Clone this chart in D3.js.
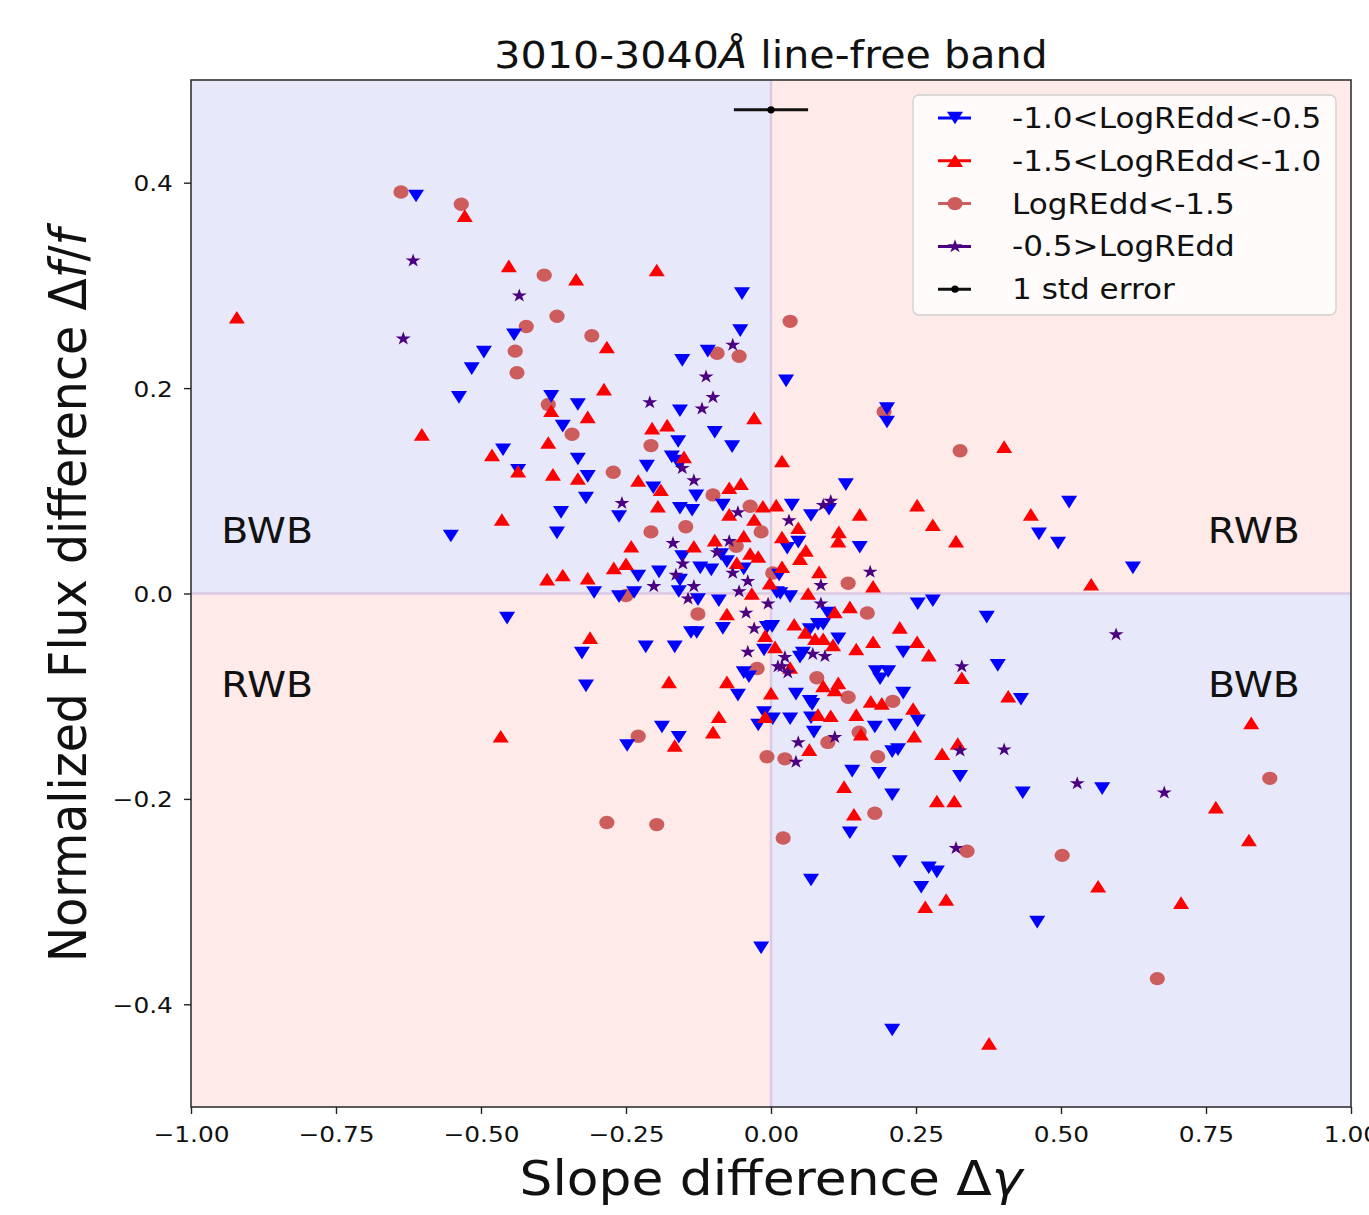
<!DOCTYPE html>
<html lang="en">
<head>
<meta charset="utf-8">
<title>3010-3040Å line-free band</title>
<style>
  body { margin: 0; background: #fff; }
  svg { display: block; font-family: "DejaVu Sans", sans-serif; }
</style>
</head>
<body>
<svg id="chart"></svg>
<script src="https://d3js.org/d3.v7.min.js"></script>
<script>
// -1.0 < LogREdd < -0.5  (blue, down triangles)
var midEdd = [
  [-0.612,0.387],[-0.495,0.235],[-0.516,0.219],[-0.538,0.191],[-0.050,0.292],[-0.443,0.252],[-0.053,0.256],
  [-0.109,0.236],[-0.153,0.227],[-0.379,0.192],[-0.333,0.184],[-0.157,0.178],[0.026,0.207],[0.200,0.180],
  [0.200,0.167],[-0.359,0.163],[-0.097,0.157],[-0.160,0.148],[-0.067,0.143],[-0.462,0.140],[-0.333,0.131],
  [-0.171,0.133],[-0.162,0.129],[-0.157,0.126],[-0.436,0.120],[-0.316,0.114],[-0.214,0.124],[-0.203,0.103],
  [-0.129,0.095],[-0.319,0.093],[-0.083,0.086],[-0.157,0.083],[-0.136,0.081],[-0.362,0.079],[-0.262,0.075],
  [-0.369,0.059],[-0.153,0.036],[-0.086,0.038],[-0.076,0.031],[-0.122,0.025],[-0.103,0.023],[-0.193,0.021],
  [-0.229,0.017],[-0.047,0.024],[-0.157,0.013],[-0.159,0.002],[-0.305,0.001],[-0.262,-0.003],[-0.236,0.001],
  [-0.126,-0.006],[-0.090,-0.007],[0.010,0.001],[-0.455,-0.024],[-0.138,-0.038],[-0.128,-0.038],[-0.083,-0.034],
  [-0.007,-0.033],[-0.326,-0.058],[-0.216,-0.052],[-0.166,-0.052],[-0.012,-0.055],[-0.047,-0.077],[-0.038,-0.081],
  [-0.319,-0.090],[-0.057,-0.099],[-0.012,-0.116],[0.003,-0.122],[-0.022,-0.128],[-0.188,-0.130],[-0.159,-0.140],
  [-0.248,-0.148],[0.129,0.106],[0.514,0.089],[0.036,0.086],[0.100,0.082],[0.069,0.076],[0.462,0.058],
  [0.495,0.049],[0.047,0.050],[0.028,0.044],[0.153,0.045],[0.014,0.018],[0.016,0.000],[0.033,-0.003],
  [0.098,-0.019],[0.253,-0.010],[0.279,-0.007],[0.372,-0.023],[0.002,-0.032],[0.067,-0.035],[0.081,-0.030],
  [0.090,-0.030],[0.116,-0.044],[0.228,-0.057],[0.055,-0.058],[0.050,-0.062],[0.181,-0.076],[0.202,-0.076],
  [0.188,-0.083],[0.391,-0.070],[0.228,-0.097],[0.043,-0.098],[0.067,-0.105],[0.071,-0.108],[0.431,-0.103],
  [0.033,-0.122],[0.069,-0.121],[0.253,-0.124],[0.179,-0.130],[0.214,-0.128],[0.074,-0.135],[0.209,-0.154],
  [0.219,-0.152],[0.140,-0.173],[0.186,-0.175],[0.326,-0.178],[0.209,-0.196],[0.434,-0.194],[0.136,-0.233],
  [0.222,-0.261],[0.272,-0.267],[0.286,-0.271],[0.069,-0.279],[0.259,-0.286],[0.459,-0.320],[0.209,-0.425],
  [-0.017,-0.345],[0.571,-0.190],[0.624,0.025],[-0.552,0.056]
];

// -1.5 < LogREdd < -1.0  (red, up triangles)
var lowEdd = [
  [-0.528,0.368],[-0.921,0.269],[-0.452,0.319],[-0.336,0.306],[-0.197,0.315],[-0.283,0.240],[-0.288,0.199],
  [-0.379,0.178],[-0.316,0.172],[-0.029,0.171],[-0.602,0.155],[-0.205,0.161],[-0.179,0.164],[-0.384,0.147],
  [-0.481,0.135],[-0.150,0.133],[-0.436,0.119],[-0.376,0.116],[-0.333,0.112],[-0.229,0.110],[-0.190,0.101],
  [-0.072,0.103],[-0.052,0.107],[-0.195,0.085],[-0.014,0.085],[0.009,0.086],[-0.072,0.077],[-0.464,0.072],
  [-0.029,0.072],[-0.047,0.056],[-0.241,0.046],[-0.133,0.046],[-0.097,0.052],[-0.036,0.039],[-0.022,0.036],
  [-0.250,0.029],[-0.271,0.025],[-0.059,0.030],[-0.386,0.014],[-0.359,0.018],[-0.316,0.015],[-0.002,0.010],
  [-0.033,0.000],[-0.076,-0.020],[-0.010,-0.041],[-0.312,-0.043],[0.007,-0.052],[-0.176,-0.086],[-0.076,-0.086],
  [0.000,-0.097],[-0.090,-0.120],[-0.010,-0.120],[-0.100,-0.135],[-0.166,-0.148],[-0.466,-0.139],
  [0.402,0.143],[0.019,0.129],[0.153,0.077],[0.252,0.086],[0.279,0.067],[0.448,0.077],[0.047,0.064],
  [0.117,0.060],[0.116,0.051],[0.319,0.051],[0.019,0.055],[0.060,0.042],[0.050,0.034],[0.019,0.026],
  [0.083,0.021],[0.176,0.007],[0.064,0.000],[0.110,-0.018],[0.136,-0.013],[0.040,-0.030],[0.222,-0.033],
  [0.059,-0.038],[0.076,-0.044],[0.090,-0.044],[0.107,-0.050],[0.176,-0.047],[0.252,-0.047],[0.147,-0.054],
  [0.272,-0.060],[0.033,-0.072],[0.329,-0.082],[0.090,-0.090],[0.116,-0.087],[0.110,-0.094],[0.172,-0.105],
  [0.191,-0.107],[0.409,-0.100],[0.245,-0.112],[0.081,-0.118],[0.103,-0.119],[0.147,-0.118],[0.155,-0.137],
  [0.247,-0.139],[0.066,-0.152],[0.295,-0.156],[0.322,-0.146],[0.126,-0.188],[0.286,-0.202],[0.316,-0.202],
  [0.143,-0.215],[0.302,-0.298],[0.266,-0.305],[0.376,-0.438],[0.767,-0.208],[0.824,-0.240],[0.564,-0.285],
  [0.707,-0.301],[0.552,0.009],[0.828,-0.126]
];

// LogREdd < -1.5  (indianred, circles)
var veryLowEdd = [
  [-0.638,0.391],[-0.534,0.379],[-0.391,0.310],[-0.369,0.270],[-0.422,0.260],[-0.309,0.251],[-0.441,0.236],
  [-0.093,0.234],[-0.055,0.231],[-0.438,0.215],[-0.384,0.184],[0.033,0.265],[0.195,0.177],[-0.343,0.155],
  [-0.207,0.144],[-0.272,0.118],[-0.100,0.096],[-0.036,0.085],[-0.017,0.060],[-0.207,0.060],[-0.147,0.065],
  [-0.060,0.046],[0.003,0.020],[-0.250,-0.002],[-0.126,-0.020],[-0.024,-0.073],[-0.229,-0.139],[-0.007,-0.159],
  [0.326,0.139],[0.133,0.010],[0.166,-0.019],[0.079,-0.082],[0.133,-0.101],[0.210,-0.105],[0.152,-0.135],
  [0.098,-0.145],[0.184,-0.159],[0.024,-0.161],[0.179,-0.214],[0.021,-0.238],[0.338,-0.251],[0.502,-0.255],
  [0.860,-0.180],[0.666,-0.375],[-0.283,-0.223],[-0.197,-0.225]
];

// -0.5 > LogREdd  (indigo, stars)
var highEdd = [
  [-0.617,0.324],[-0.634,0.248],[-0.434,0.290],[-0.066,0.242],[-0.112,0.211],[-0.100,0.191],[-0.209,0.186],
  [-0.119,0.180],[-0.153,0.122],[-0.133,0.110],[-0.257,0.088],[-0.057,0.079],[-0.169,0.049],[-0.072,0.051],
  [-0.093,0.040],[-0.152,0.029],[-0.066,0.020],[-0.164,0.018],[-0.202,0.007],[-0.133,0.007],[-0.040,0.012],
  [-0.055,0.002],[-0.143,-0.005],[-0.005,-0.010],[-0.043,-0.019],[-0.029,-0.034],[-0.040,-0.057],[0.012,-0.071],
  [0.103,0.090],[0.090,0.086],[0.031,0.071],[0.171,0.021],[0.086,0.008],[0.086,-0.010],[0.072,-0.059],
  [0.093,-0.061],[0.024,-0.062],[0.019,-0.071],[0.029,-0.077],[0.329,-0.071],[0.047,-0.145],[0.110,-0.140],
  [0.326,-0.153],[0.402,-0.152],[0.043,-0.164],[0.319,-0.248],[0.528,-0.185],[0.678,-0.194],[0.595,-0.040]
];

// typical 1-sigma error shown at the top
var stdError = { x: 0.0, y: 0.471, xerr: 0.064 };

var xTicks = [-1, -0.75, -0.5, -0.25, 0, 0.25, 0.5, 0.75, 1];
var yTicks = [-0.4, -0.2, 0, 0.2, 0.4];

var legendLabels = ["-1.0<LogREdd<-0.5", "-1.5<LogREdd<-1.0", "LogREdd<-1.5", "-0.5>LogREdd", "1 std error"];

(function() {
  var width = 1369, height = 1215;
  var SX = 1.13; // the original picture is a bit wider than tall in its glyphs

  var svg = d3.select("#chart").attr("width", width).attr("height", height);

  var x = d3.scaleLinear().domain([-1, 1]).range([191, 1351]);
  var y = d3.scaleLinear().domain([-0.5, 0.5]).range([1107, 80]);

  var blueBg = "#e8e8fb", pinkBg = "#ffeaea";

  // quadrant shading
  var quads = [
    { x0: -1, x1: 0, y0: 0, y1: 0.5, c: blueBg },
    { x0: 0, x1: 1, y0: 0, y1: 0.5, c: pinkBg },
    { x0: -1, x1: 0, y0: -0.5, y1: 0, c: pinkBg },
    { x0: 0, x1: 1, y0: -0.5, y1: 0, c: blueBg }
  ];
  svg.append("g").selectAll("rect").data(quads).enter().append("rect")
    .attr("x", function(d) { return x(d.x0); })
    .attr("y", function(d) { return y(d.y1); })
    .attr("width", function(d) { return x(d.x1) - x(d.x0); })
    .attr("height", function(d) { return y(d.y0) - y(d.y1); })
    .attr("fill", function(d) { return d.c; });

  svg.append("line").attr("x1", x(0)).attr("x2", x(0)).attr("y1", y(0.5)).attr("y2", y(-0.5))
    .attr("stroke", "#dcc9e4").attr("stroke-width", 2.5);
  svg.append("line").attr("x1", x(-1)).attr("x2", x(1)).attr("y1", y(0)).attr("y2", y(0))
    .attr("stroke", "#dcc9e4").attr("stroke-width", 2.5);

  // region labels
  function stretchedText(g, px, py, txt, size, anchor) {
    return g.append("text")
      .attr("transform", "translate(" + px + "," + py + ") scale(" + SX + ",1)")
      .attr("font-size", size)
      .attr("text-anchor", anchor || "start")
      .attr("fill", "#111")
      .text(txt);
  }
  var regions = [
    { x: -0.948, y: 0.06, t: "BWB", a: "start" },
    { x: -0.948, y: -0.09, t: "RWB", a: "start" },
    { x: 0.912, y: 0.06, t: "RWB", a: "end" },
    { x: 0.912, y: -0.09, t: "BWB", a: "end" }
  ];
  var rg = svg.append("g");
  regions.forEach(function(r) {
    stretchedText(rg, x(r.x), y(r.y) + 11, r.t, 35, r.a);
  });

  // marker shapes, centred on their bounding box like matplotlib
  var triUp = { draw: function(ctx, size) {
    var s = Math.sqrt(size * 4 / Math.sqrt(3)), h = s * Math.sqrt(3) / 2;
    ctx.moveTo(0, -h / 2); ctx.lineTo(s / 2, h / 2); ctx.lineTo(-s / 2, h / 2); ctx.closePath();
  } };
  var triDown = { draw: function(ctx, size) {
    var s = Math.sqrt(size * 4 / Math.sqrt(3)), h = s * Math.sqrt(3) / 2;
    ctx.moveTo(0, h / 2); ctx.lineTo(s / 2, -h / 2); ctx.lineTo(-s / 2, -h / 2); ctx.closePath();
  } };

  var blueSym = d3.symbol().type(triDown).size(92);
  var redSym = d3.symbol().type(triUp).size(92);
  var starSym = d3.symbol().type(d3.symbolStar).size(58);

  var marks = svg.append("g");

  marks.append("g").selectAll("ellipse").data(veryLowEdd).enter().append("ellipse")
    .attr("cx", function(d) { return x(d[0]); })
    .attr("cy", function(d) { return y(d[1]); })
    .attr("rx", 7.6).attr("ry", 6.7)
    .attr("fill", "#cd5c5c");

  marks.append("g").selectAll("path").data(midEdd).enter().append("path")
    .attr("d", blueSym)
    .attr("transform", function(d) { return "translate(" + x(d[0]) + "," + y(d[1]) + ") scale(1.1,1)"; })
    .attr("fill", "#0000ff");

  marks.append("g").selectAll("path").data(lowEdd).enter().append("path")
    .attr("d", redSym)
    .attr("transform", function(d) { return "translate(" + x(d[0]) + "," + y(d[1]) + ") scale(1.1,1)"; })
    .attr("fill", "#ff0000");

  marks.append("g").selectAll("path").data(highEdd).enter().append("path")
    .attr("d", starSym)
    .attr("transform", function(d) { return "translate(" + x(d[0]) + "," + y(d[1]) + ") scale(1.1,1)"; })
    .attr("fill", "#4b0082");

  // error bar
  svg.append("line")
    .attr("x1", x(stdError.x - stdError.xerr)).attr("x2", x(stdError.x + stdError.xerr))
    .attr("y1", y(stdError.y)).attr("y2", y(stdError.y))
    .attr("stroke", "#111").attr("stroke-width", 3);
  svg.append("circle").attr("cx", x(stdError.x)).attr("cy", y(stdError.y)).attr("r", 3.6).attr("fill", "#000");

  // frame
  svg.append("rect").attr("x", x(-1)).attr("y", y(0.5))
    .attr("width", x(1) - x(-1)).attr("height", y(-0.5) - y(0.5))
    .attr("fill", "none").attr("stroke", "#333").attr("stroke-width", 1.6);

  // axes
  var xAxis = svg.append("g").attr("transform", "translate(0," + y(-0.5) + ")")
    .call(d3.axisBottom(x).tickValues(xTicks).tickFormat(d3.format(".2f")).tickSize(7).tickPadding(12));
  var yAxis = svg.append("g").attr("transform", "translate(" + x(-1) + ",0)")
    .call(d3.axisLeft(y).tickValues(yTicks).tickFormat(d3.format(".1f")).tickSize(7).tickPadding(9));
  [xAxis, yAxis].forEach(function(a) {
    a.select(".domain").remove();
    a.selectAll(".tick line").attr("stroke", "#222").attr("stroke-width", 1.4);
    a.selectAll(".tick text").attr("font-size", 22).attr("fill", "#111")
      .attr("font-family", "DejaVu Sans");
  });
  xAxis.selectAll(".tick text").attr("transform", "scale(" + SX + ",1)");
  yAxis.selectAll(".tick text").attr("transform", "scale(" + SX + ",1)").attr("dy", "0.36em");

  // title
  var title = svg.append("text")
    .attr("transform", "translate(" + x(0) + ",68) scale(" + SX + ",1)")
    .attr("text-anchor", "middle").attr("font-size", 36.5).attr("fill", "#111");
  title.append("tspan").text("3010-3040");
  title.append("tspan").attr("font-style", "italic").text("Å");
  title.append("tspan").text(" line-free band");

  // axis labels
  var xl = svg.append("text")
    .attr("transform", "translate(" + x(0) + ",1195) scale(1.08,1)")
    .attr("text-anchor", "middle").attr("font-size", 48).attr("fill", "#111");
  xl.append("tspan").text("Slope difference Δ");
  xl.append("tspan").attr("font-style", "italic").text("γ");

  var yl = svg.append("text")
    .attr("transform", "translate(86," + (y(0) + 2) + ") rotate(-90) scale(1,1.08)")
    .attr("text-anchor", "middle").attr("font-size", 47.5).attr("fill", "#111");
  yl.append("tspan").text("Normalized Flux difference Δ");
  yl.append("tspan").attr("font-style", "italic").text("f");
  yl.append("tspan").text("/");
  yl.append("tspan").attr("font-style", "italic").text("f");

  // legend
  var lg = svg.append("g");
  lg.append("rect").attr("x", 913).attr("y", 95).attr("width", 423).attr("height", 220).attr("rx", 6)
    .attr("fill", "#ffffff").attr("fill-opacity", 0.8).attr("stroke", "#d0d0d0").attr("stroke-width", 1.3);
  var legendColors = ["#0000ff", "#ff0000", "#cd5c5c", "#4b0082", "#111"];
  legendLabels.forEach(function(lab, i) {
    var cy = 118 + i * 42.8;
    var row = lg.append("g");
    row.append("line").attr("x1", 938).attr("x2", 971).attr("y1", cy).attr("y2", cy)
      .attr("stroke", legendColors[i]).attr("stroke-width", 3);
    var m = "translate(955," + cy + ") scale(1.1,1)";
    if (i === 0) row.append("path").attr("d", blueSym).attr("transform", m).attr("fill", legendColors[i]);
    if (i === 1) row.append("path").attr("d", redSym).attr("transform", m).attr("fill", legendColors[i]);
    if (i === 2) row.append("ellipse").attr("cx", 955).attr("cy", cy).attr("rx", 7.6).attr("ry", 6.7).attr("fill", legendColors[i]);
    if (i === 3) row.append("path").attr("d", starSym).attr("transform", m).attr("fill", legendColors[i]);
    if (i === 4) row.append("circle").attr("cx", 955).attr("cy", cy).attr("r", 3.6).attr("fill", "#000");
    stretchedText(row, 1012, cy + 10, lab, 27.5, "start");
  });
})();
</script>
</body>
</html>
